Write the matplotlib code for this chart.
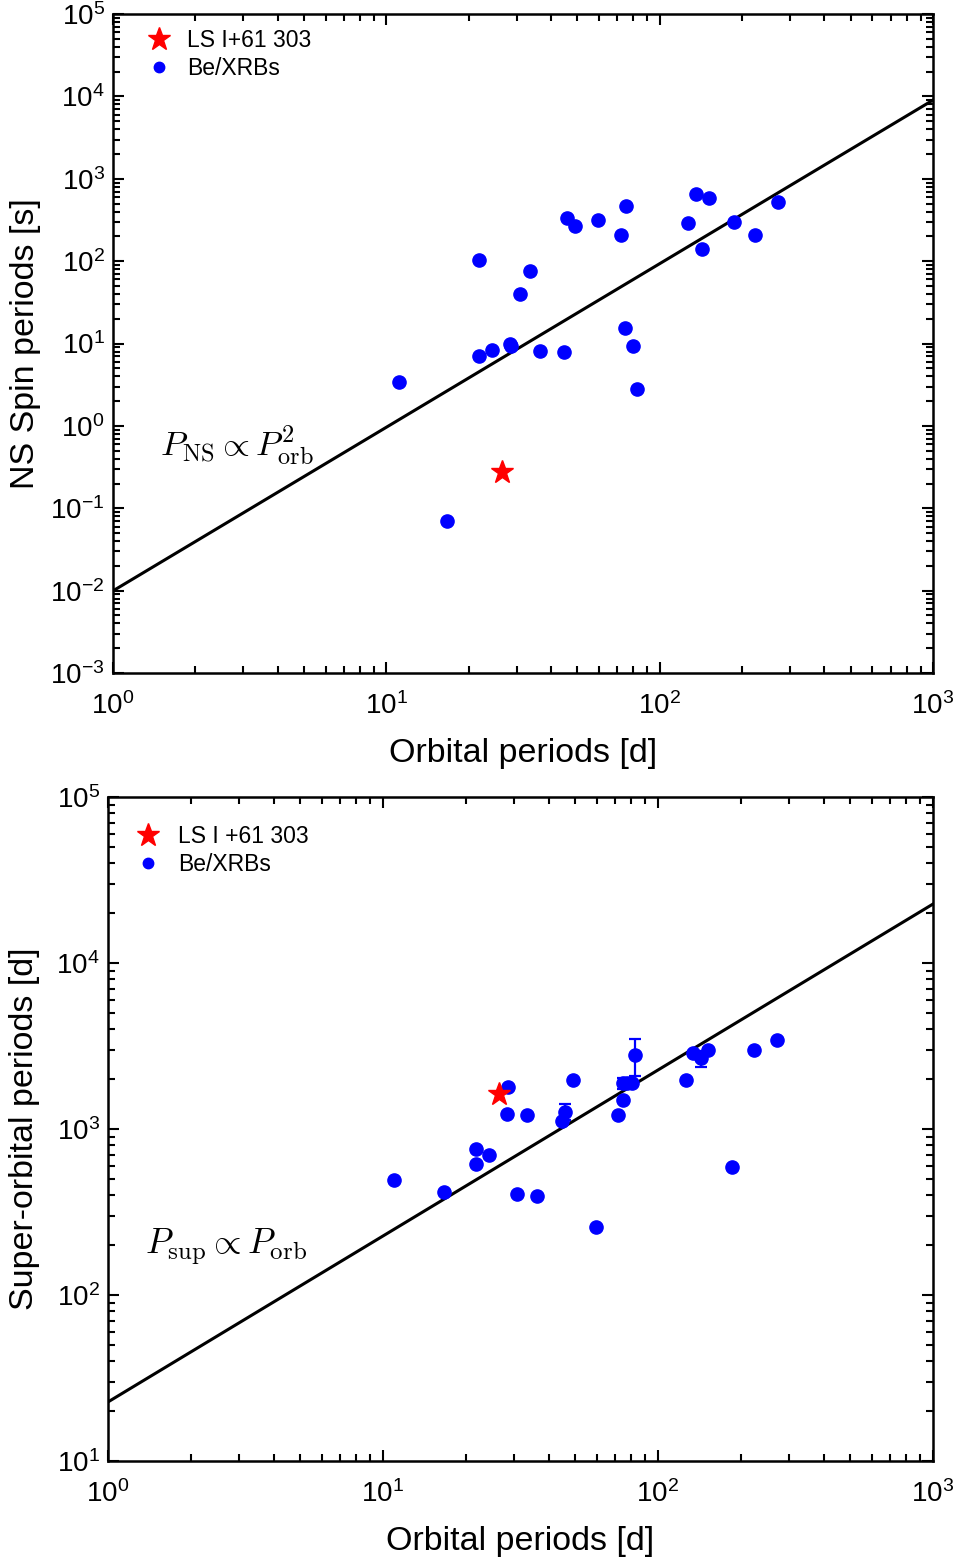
import numpy as np
import matplotlib.pyplot as plt
from matplotlib.lines import Line2D
from matplotlib.ticker import LogLocator, NullFormatter

plt.rcParams['font.family'] = ['Liberation Sans', 'DejaVu Sans']
plt.rcParams['mathtext.fontset'] = 'cm'

# ---- top panel: NS spin period vs orbital period ----
spin_porb = [11.1, 16.7, 21.8, 21.8, 24.4, 28.4, 28.6, 30.9, 33.6, 36.5,
             44.7, 45.8, 49.0, 59.5, 72.2, 75.4, 74.7, 80.0, 82.7, 127,
             136, 152, 143, 187, 223, 271]
spin_pns = [3.4, 0.070, 103, 7.1, 8.4, 9.9, 9.3, 40, 76, 8.1,
            7.9, 334, 267, 316, 208, 468, 15.5, 9.4, 2.8, 291,
            655, 585, 141, 299, 208, 523]
lsi_porb = 26.5
lsi_pns = 0.277
spin_line_x = [1.0, 1000.0]
spin_line_y = [0.00995, 9040.0]

# ---- bottom panel: super-orbital period vs orbital period ----
sup_porb = [11.0, 16.6, 21.8, 21.8, 24.3, 28.4, 28.2, 30.7, 33.3, 36.3,
            44.9, 45.9, 48.9, 59.5, 71.7, 74.4, 74.4, 76.9, 80.2, 82.3,
            126, 134, 143, 152, 186, 224, 271]
sup_psup = [493, 419, 755, 615, 700, 1783, 1236, 405, 1213, 394,
            1117, 1270, 1982, 258, 1208, 1503, 1884, 1900, 1884, 2780,
            1982, 2858, 2667, 2980, 588, 2980, 3420]
sup_err = [0, 0, 0, 0, 0, 0, 0, 0, 0, 0,
           0, 140, 0, 0, 0, 0, 140, 0, 0, 700,
           0, 0, 300, 0, 0, 0, 0]
lsi_psup = 1626
sup_line_x = [1.0, 1000.0]
sup_line_y = [22.7, 22650.0]

fig = plt.figure(figsize=(9.59, 15.66), dpi=100)
ax1 = fig.add_axes([0.1178, 0.5702, 0.8551, 0.4208])
ax2 = fig.add_axes([0.1126, 0.0670, 0.8603, 0.4241])


def style(ax, ylo, yhi):
    ax.set_xscale('log')
    ax.set_yscale('log')
    ax.set_xlim(1, 1000)
    ax.set_ylim(ylo, yhi)
    for s in ax.spines.values():
        s.set_linewidth(1.8)
    ax.xaxis.set_major_locator(LogLocator(base=10, numticks=10))
    ax.yaxis.set_major_locator(LogLocator(base=10, numticks=12))
    ax.xaxis.set_minor_locator(LogLocator(base=10, subs=np.arange(2, 10), numticks=12))
    ax.yaxis.set_minor_locator(LogLocator(base=10, subs=np.arange(2, 10), numticks=12))
    ax.xaxis.set_minor_formatter(NullFormatter())
    ax.yaxis.set_minor_formatter(NullFormatter())
    ax.tick_params(which='both', direction='in', top=True, right=True,
                   labelsize=20, width=1.5)
    ax.tick_params(which='major', length=8)
    ax.tick_params(which='minor', length=5)
    ax.tick_params(axis='x', which='major', pad=14)
    ax.tick_params(axis='y', which='major', pad=6)


style(ax1, 1e-3, 1e5)
style(ax2, 1e1, 1e5)

ax1.plot(spin_line_x, spin_line_y, color='black', lw=2.2, zorder=2)
ax1.plot(spin_porb, spin_pns, 'o', color='blue', ms=9.5, zorder=3)
ax1.plot(lsi_porb, lsi_pns, '*', color='red', ms=17, mec='red', zorder=4)
ax1.text(1.49, 0.59, r'$P_{\rm NS} \propto P_{\rm orb}^2$', fontsize=25,
         ha='left', va='center')
ax1.set_xlabel('Orbital periods [d]', fontsize=24.5, labelpad=13)
ax1.set_ylabel('NS Spin periods [s]', fontsize=24.5)
ax1.yaxis.set_label_coords(-0.088, 0.5)

ax2.plot(sup_line_x, sup_line_y, color='black', lw=2.2, zorder=2)
ax2.errorbar(sup_porb, sup_psup, yerr=sup_err, fmt='o', color='blue',
             ms=9.5, elinewidth=1.6, capsize=4.5, capthick=1.6, zorder=3)
ax2.plot(lsi_porb, lsi_psup, '*', color='red', ms=17, mec='red', zorder=4)
ax2.text(1.36, 195, r'$P_{\rm sup} \propto P_{\rm orb}$', fontsize=25.5,
         ha='left', va='center')
ax2.set_xlabel('Orbital periods [d]', fontsize=24.5, labelpad=13)
ax2.set_ylabel('Super-orbital periods [d]', fontsize=24.5)
ax2.yaxis.set_label_coords(-0.082, 0.5)

h1 = [Line2D([], [], ls='none', marker='*', color='red', ms=17),
      Line2D([], [], ls='none', marker='o', color='blue', ms=7.5)]
ax1.legend(h1, ['LS I+61 303', 'Be/XRBs'], loc='upper left', frameon=False,
           fontsize=16.5, bbox_to_anchor=(-0.002, 1.015), handletextpad=0.2,
           borderpad=0.6, labelspacing=0.2)
ax2.legend(h1, ['LS I +61 303', 'Be/XRBs'], loc='upper left', frameon=False,
           fontsize=16.5, bbox_to_anchor=(-0.01, 0.995), handletextpad=0.3,
           borderpad=0.6, labelspacing=0.2)

fig.savefig('out.png', dpi=100)
